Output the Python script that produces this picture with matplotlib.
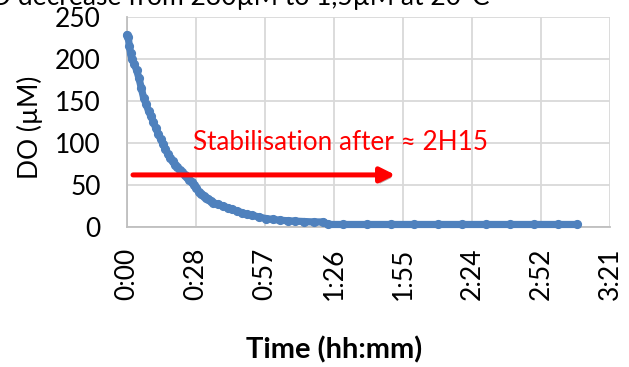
import matplotlib
matplotlib.use("Agg")
import matplotlib.pyplot as plt
import matplotlib.patheffects as pe

# Data (time in minutes, DO in µM)
time_min = [0, 0.5, 1, 1.5, 2, 3, 4, 5, 6, 7, 8, 9, 10, 11, 12, 13, 14, 15, 16, 17,
            18, 19, 20, 21, 22, 23, 24, 25, 26, 27, 28, 29, 30, 31, 32, 33, 34, 35,
            36, 38, 40, 42, 44, 46, 48, 50, 52, 55, 58, 61, 64, 67, 70, 74, 78, 82,
            84, 90, 100, 110, 120, 130, 140, 150, 160, 170, 180, 188]
do_um = [229, 226, 215, 207, 200, 194, 187, 177, 165, 153, 146, 138, 132, 125, 118,
         111, 105, 99, 93, 87, 82, 78, 74, 71, 68, 65, 62, 59, 56, 53, 50, 46, 42,
         39, 37, 35, 33, 31, 29, 27, 25, 23, 21, 19, 17, 15, 14, 12, 10, 9, 8, 7.5,
         7, 6.5, 6, 6, 3, 3, 3, 3, 3, 3, 3, 3, 3, 3, 3, 3]

xtick_labels = ["0:00", "0:28", "0:57", "1:26", "1:55", "2:24", "2:52", "3:21"]
ytick_vals = [0, 50, 100, 150, 200, 250]
xtick_step = 28.8

arrow_start = (2.5, 62)
arrow_end = (112, 62)
annot_text = "Stabilisation after \u2248 2H15"
title_text = "DO decrease from 230\u00b5M to 1,5\u00b5M at 20\u00b0C"

plt.rcParams['font.family'] = ['Lato', 'DejaVu Sans']

W, H = 629, 367
fig = plt.figure(figsize=(W / 100, H / 100), dpi=100)
ax = fig.add_axes([127 / W, 1 - 227 / H, (610 - 127) / W, (227 - 17) / H])

ax.plot(time_min, do_um, color='#4F81BD', lw=5.2, marker='o', markersize=5.6,
        solid_capstyle='round', solid_joinstyle='round', zorder=3, clip_on=False)

xticks = [i * xtick_step for i in range(len(xtick_labels))]
ax.set_xlim(0, xticks[-1])
ax.set_ylim(0, 250)
ax.set_xticks(xticks)
ax.set_xticklabels(xtick_labels, rotation=90, fontsize=19)
ax.set_yticks(ytick_vals)
ax.set_yticklabels([str(v) for v in ytick_vals], fontsize=19)
ax.tick_params(axis='x', length=0, pad=15)
ax.tick_params(axis='y', length=0, pad=19)
ax.grid(True, color='#D9D9D9', lw=1.3)
ax.set_axisbelow(True)
for s in ['top', 'right']:
    ax.spines[s].set_visible(False)
for s in ['left', 'bottom']:
    ax.spines[s].set_color('#BFBFBF')
    ax.spines[s].set_linewidth(1.3)

ax.annotate('', xy=arrow_end, xytext=arrow_start,
            arrowprops=dict(arrowstyle='-|>', color='#FF0000', lw=3.6,
                            mutation_scale=22, shrinkA=0, shrinkB=0,
                            path_effects=[pe.SimplePatchShadow(offset=(1.5, -2), alpha=0.35),
                                          pe.Normal()]),
            zorder=4)
ax.text(27.5, 92, annot_text, color='#FF0000', fontsize=18.8, ha='left',
        va='baseline', zorder=5)

fig.text(30 / W, 1 - 127 / H, "DO (\u00b5M)", rotation=90, fontsize=19,
         ha='center', va='center')
fig.text(334 / W, 1 - 350 / H, "Time (hh:mm)", fontsize=21, fontweight='bold',
         ha='center', va='center')
fig.text(490 / W, 1 - 4.5 / H, title_text, fontsize=19, ha='right', va='baseline')

fig.savefig("out.png", dpi=100)
